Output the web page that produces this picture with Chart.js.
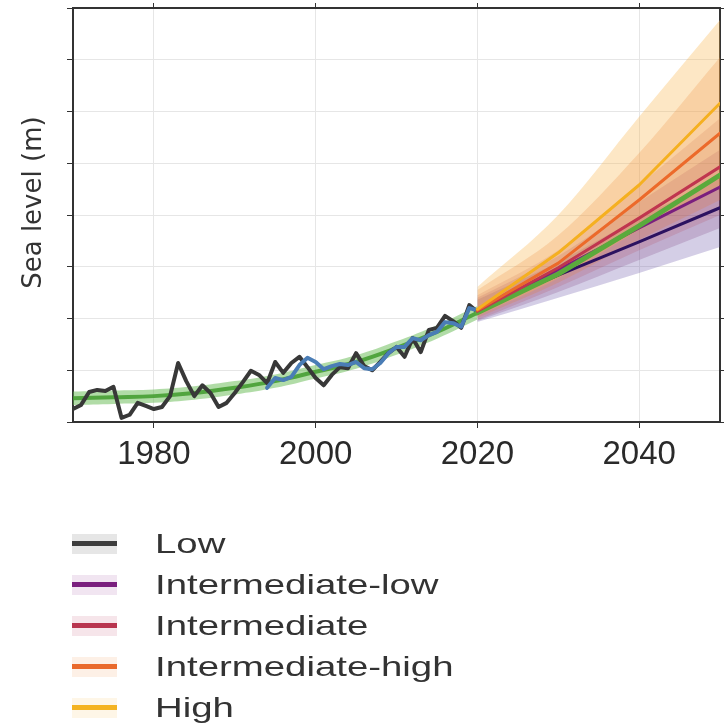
<!DOCTYPE html>
<html>
<head>
<meta charset="utf-8">
<script src="https://cdn.jsdelivr.net/npm/chart.js@4.4.1/dist/chart.umd.min.js"></script>
<style>
  html, body { margin: 0; padding: 0; background: #fff; }
  #wrap { position: relative; width: 724px; height: 727px; }
  #legend { position: absolute; left: 72px; top: 523px; }
  .row { display: flex; align-items: center; height: 41px; }
  .icon { position: relative; width: 45px; height: 20px; }
  .icon span { position: absolute; left: 0; right: 0; top: 7.5px; height: 5px; }
  .lbl { margin-left: 38px; font: 28px 'Liberation Sans', Arial, sans-serif; color: #333;
         transform: scaleX(1.37); transform-origin: left center; white-space: nowrap; }
</style>
</head>
<body>
<div id="wrap">
  <canvas id="chart"></canvas>
  <div id="legend"></div>
</div>
<script>
// observed tide gauge record, one value per year from 1970
const tideStartYear = 1970
const tideGauge = [0.025, 0.033, 0.058, 0.062, 0.060, 0.068, 0.008, 0.014, 0.037, 0.031,
  0.025, 0.029, 0.050, 0.114, 0.079, 0.050, 0.071, 0.056, 0.029, 0.037,
  0.056, 0.077, 0.099, 0.091, 0.075, 0.116, 0.095, 0.114, 0.126, 0.106,
  0.085, 0.071, 0.091, 0.106, 0.104, 0.133, 0.108, 0.100, 0.116, 0.133,
  0.145, 0.126, 0.162, 0.135, 0.178, 0.182, 0.205, 0.195, 0.182, 0.226, 0.213]

// satellite altimetry, one value per year from 1994
const satStartYear = 1994
const satellite = [0.066, 0.085, 0.081, 0.087, 0.110, 0.124, 0.116, 0.102, 0.108, 0.112,
  0.110, 0.116, 0.104, 0.102, 0.114, 0.133, 0.145, 0.145, 0.162, 0.158,
  0.168, 0.174, 0.193, 0.191, 0.184, 0.220, 0.216]

// observation-based trend
const trendYears = [1970, 1975, 1980, 1985, 1990, 1995, 2000, 2005, 2010, 2015, 2020]
const trendSL = [0.046, 0.048, 0.050, 0.056, 0.066, 0.079, 0.097, 0.116, 0.143, 0.174, 0.211]
const trendSpread = 0.013
const trendProjYears = [2020, 2030, 2040, 2050]
const trendProj = [0.211, 0.286, 0.379, 0.477]

// scenarios
const projYears = [2020, 2030, 2040, 2050]
const scenarios = ['Low', 'Intermediate-low', 'Intermediate', 'Intermediate-high', 'High']
const projMid = [
  [0.216, 0.284, 0.348, 0.414],
  [0.214, 0.294, 0.375, 0.454],
  [0.214, 0.298, 0.394, 0.493],
  [0.216, 0.307, 0.429, 0.558],
  [0.218, 0.327, 0.458, 0.616],
]
const projUpper = [
  [0.236, 0.309, 0.394, 0.471],
  [0.240, 0.321, 0.425, 0.526],
  [0.245, 0.332, 0.458, 0.587],
  [0.255, 0.361, 0.520, 0.705],
  [0.261, 0.400, 0.590, 0.777],
]
const projLower = [
  [0.193, 0.240, 0.288, 0.338],
  [0.195, 0.251, 0.313, 0.375],
  [0.197, 0.261, 0.332, 0.400],
  [0.201, 0.269, 0.352, 0.429],
  [0.205, 0.278, 0.371, 0.458],
]

const xTicks = [1980, 2000, 2020, 2040]

const lineColors = ['#2c1260', '#7a1f7e', '#c0354f', '#ec6a2a', '#f5b020']
const bandColors = ['rgba(100,78,165,0.28)', 'rgba(110,40,110,0.20)', 'rgba(180,60,80,0.18)',
  'rgba(230,120,55,0.24)', 'rgba(248,181,74,0.32)']
const legendLine = ['#3d3d3d', '#7a1f7e', '#b8354f', '#e96a2c', '#f4b321']
const legendBand = ['#e6e6e6', '#f1e5f1', '#f6e5ea', '#fdf0e6', '#fef6e7']

const pts = (xs, ys) => ys.map((y, i) => ({ x: xs[i], y: y }))
const seqPts = (start, ys) => ys.map((y, i) => ({ x: start + i, y: y }))

const datasets = []
function line(data, color, width, extra) {
  datasets.push(Object.assign({
    data: data, borderColor: color, borderWidth: width, pointRadius: 0,
    fill: false, tension: 0, borderJoinStyle: 'round', borderCapStyle: 'round'
  }, extra || {}))
}

// bands, lowest scenario first so higher ones lay over
const smooth = { cubicInterpolationMode: 'monotone' }
scenarios.forEach((s, k) => {
  line(pts(projYears, projUpper[k]), 'rgba(0,0,0,0)', 0,
    Object.assign({ fill: '+1', backgroundColor: bandColors[k] }, smooth))
  line(pts(projYears, projLower[k]), 'rgba(0,0,0,0)', 0, smooth)
})

// trend band and line
line(pts(trendYears, trendSL.map(v => v + trendSpread)), 'rgba(0,0,0,0)', 0,
  { fill: '+1', backgroundColor: 'rgba(100,185,80,0.5)', tension: 0.4 })
line(pts(trendYears, trendSL.map(v => v - trendSpread)), 'rgba(0,0,0,0)', 0, { tension: 0.4 })
line(pts(trendYears, trendSL), 'rgba(65,155,45,0.85)', 4, { tension: 0.4 })

line(seqPts(tideStartYear, tideGauge), '#383838', 4)
line(seqPts(satStartYear, satellite), '#4a7db6', 4)

// projection lines
line(pts(projYears, projMid[0]), lineColors[0], 3)
line(pts(projYears, projMid[1]), lineColors[1], 3)
line(pts(trendProjYears, trendProj), '#5aaa3c', 5)
line(pts(projYears, projMid[2]), lineColors[2], 3)
line(pts(projYears, projMid[3]), lineColors[3], 3)
line(pts(projYears, projMid[4]), lineColors[4], 3)

datasets.forEach((d, i) => { d.order = datasets.length - i })

const setXTicks = (scale) => { scale.ticks = xTicks.map(v => ({ value: v })) }

new Chart(document.getElementById('chart'), {
  type: 'line',
  data: { datasets: datasets },
  options: {
    responsive: true,
    maintainAspectRatio: false,
    animation: false,
    layout: { padding: 0 },
    plugins: { legend: { display: false }, tooltip: { enabled: false } },
    scales: {
      x: {
        type: 'linear', position: 'bottom', min: 1970, max: 2050,
        afterBuildTicks: setXTicks,
        afterFit: (s) => { s.height = 305 },
        grid: { color: '#e6e6e6', lineWidth: 1, tickColor: '#333', tickLength: 6 },
        border: { color: '#333', width: 2 },
        ticks: {
          color: '#2a2a2a', padding: 7,
          font: { family: "'Liberation Sans', Arial, sans-serif", size: 33 },
          callback: (v) => String(v)
        }
      },
      x2: {
        type: 'linear', position: 'top', min: 1970, max: 2050,
        afterBuildTicks: setXTicks,
        afterFit: (s) => { s.height = 8 },
        grid: { drawOnChartArea: false, tickColor: '#333', tickLength: 5 },
        border: { color: '#333', width: 2 },
        ticks: { display: false }
      },
      y: {
        position: 'left', min: 0, max: 0.8,
        afterFit: (s) => { s.width = 73 },
        grid: { color: '#e6e6e6', lineWidth: 1, tickColor: '#333', tickLength: 6 },
        border: { color: '#333', width: 2 },
        ticks: { display: false, stepSize: 0.1 },
        title: {
          display: true, text: '   Sea level (m)', color: '#333',
          font: { family: "'DejaVu Sans', sans-serif", size: 26 },
          padding: { top: 19, bottom: 0 }
        }
      },
      y2: {
        position: 'right', min: 0, max: 0.8,
        afterFit: (s) => { s.width = 4 },
        grid: { drawOnChartArea: false, tickColor: '#333', tickLength: 4 },
        border: { color: '#333', width: 2 },
        ticks: { display: false, stepSize: 0.1 }
      }
    }
  }
})

// legend below the plot
const legend = document.getElementById('legend')
scenarios.forEach((s, k) => {
  legend.innerHTML += '<div class="row">' +
    `<div class="icon" style="background:${legendBand[k]}"><span style="background:${legendLine[k]}"></span></div>` +
    `<div class="lbl">${s}</div></div>`
})
</script>
</body>
</html>
